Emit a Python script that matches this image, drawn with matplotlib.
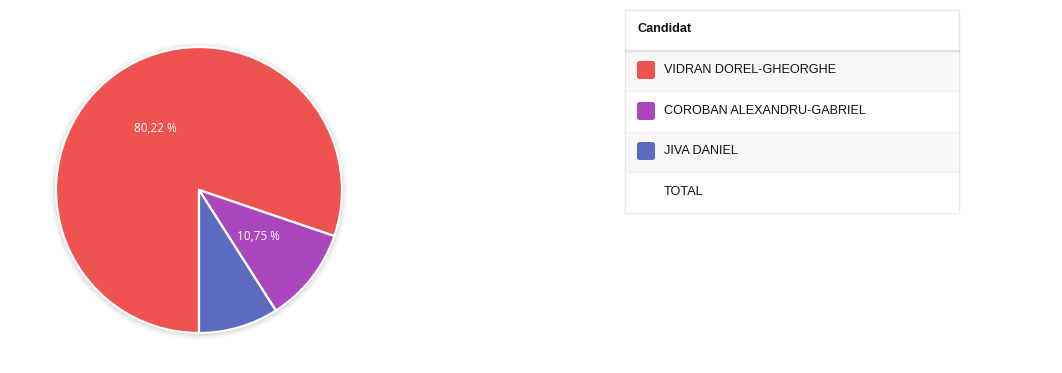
import matplotlib
matplotlib.use("Agg")
import matplotlib.pyplot as plt
from matplotlib.patches import Rectangle, FancyBboxPatch, Circle

W, H = 1062, 373

candidates = ["VIDRAN DOREL-GHEORGHE", "COROBAN ALEXANDRU-GABRIEL", "JIVA DANIEL"]
percentages = [80.22, 10.75, 9.03]
colors = ["#EF5350", "#AB47BC", "#5C6BC0"]
header_label = "Candidat"
total_label = "TOTAL"

plt.rcParams['font.family'] = ['Liberation Sans', 'DejaVu Sans']

fig = plt.figure(figsize=(W / 100, H / 100), dpi=100)
ax = fig.add_axes([0, 0, 1, 1])

def Y(y):
    return H - y

cx, cy, r = 199, Y(190), 143

# soft shadow around pie
for dr, a in [(6, 0.012), (5, 0.015), (4, 0.02), (3, 0.025), (2, 0.03), (1, 0.035)]:
    ax.add_patch(Circle((cx, cy - 1), r + dr, color="#000000", alpha=a, lw=0, zorder=1))

def fmt(p):
    return ("%.2f %%" % p).replace(".", ",") if p >= 10 else ""

wedges, texts, autotexts = ax.pie(
    percentages, colors=colors, startangle=-90, counterclock=False,
    center=(cx, cy), radius=r, autopct=fmt, pctdistance=0.53,
    wedgeprops=dict(edgecolor="white", linewidth=1.6),
    textprops=dict(color="white", fontsize=8.5, family=['Open Sans', 'DejaVu Sans']),
)
for w in wedges:
    w.set_zorder(2)
for t in autotexts:
    t.set_zorder(3)

# table
tx0, tx1 = 625, 959
ax.add_patch(Rectangle((tx0, Y(213)), tx1 - tx0, 213 - 10, facecolor="white",
                       edgecolor="#e8e8e8", lw=1, zorder=1))
# header shadow
for k, a in enumerate([0.10, 0.06, 0.03]):
    ax.plot([tx0, tx1], [Y(50 + k), Y(50 + k)], color="black", alpha=a, lw=1, zorder=2)
ax.text(637, Y(29), header_label, fontsize=9.1, fontweight="bold", color="#111111",
        va="center", ha="left", zorder=4)

row_tops = [50, 91, 131, 172]
row_h = 41
labels = candidates + [total_label]
for i, lab in enumerate(labels):
    top = row_tops[i]
    bg = "#f8f8f8" if i % 2 == 0 else "white"
    ax.add_patch(Rectangle((tx0 + 0.5, Y(top + row_h)), tx1 - tx0 - 1, row_h - 1,
                           facecolor=bg, edgecolor="none", zorder=1.5))
    ax.plot([tx0, tx1], [Y(top + row_h), Y(top + row_h)], color="#f0f0f0", lw=1, zorder=2)
    yc = top + row_h / 2 - 0.5
    if i < len(candidates):
        ax.add_patch(FancyBboxPatch((637 + 2, Y(yc + 9) + 2), 14, 14,
                                    boxstyle="round,pad=2,rounding_size=2.5",
                                    facecolor=colors[i], edgecolor="none", zorder=3))
    ax.text(664, Y(yc), lab, fontsize=9.1, color="#111111", va="center", ha="left", zorder=4)

ax.set_xlim(0, W)
ax.set_ylim(0, H)
ax.set_aspect("auto")
ax.axis("off")

fig.savefig("out.png", dpi=100, facecolor="white")
